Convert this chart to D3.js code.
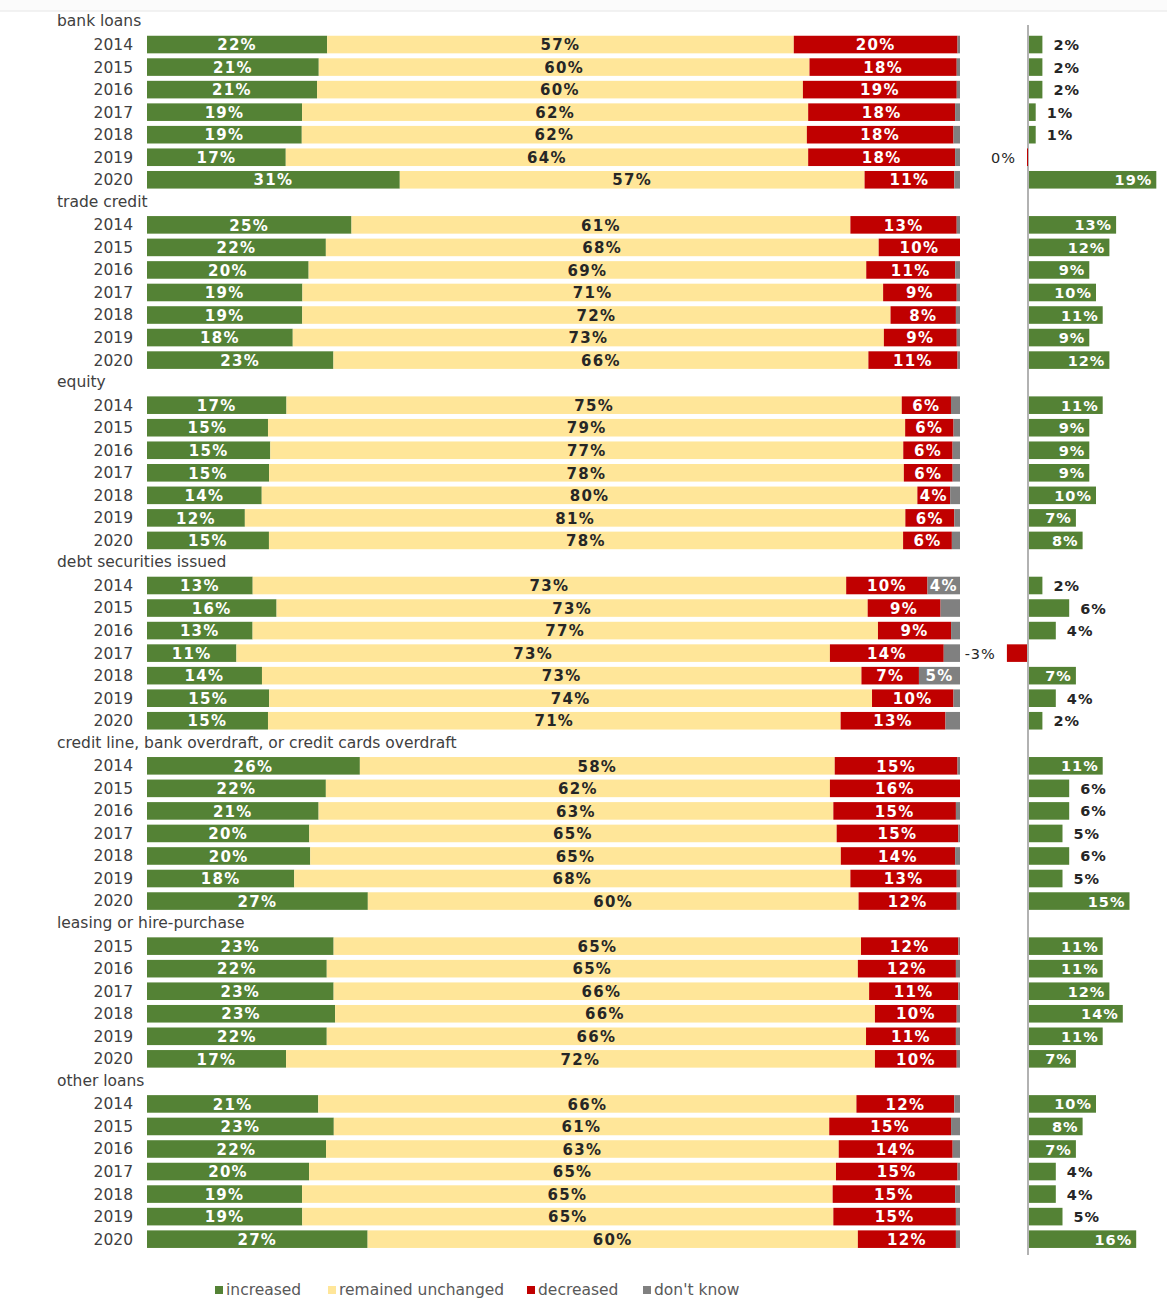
<!DOCTYPE html>
<html>
<head>
<meta charset="utf-8">
<script src="https://cdn.jsdelivr.net/npm/d3@7"></script>
<style>
  body { margin: 0; background: #fff; }
  text { font-family: "DejaVu Sans", Verdana, sans-serif; }
</style>
</head>
<body>
<div id="chart"></div>
<script>
// categories
var groups = ["bank loans", "trade credit", "equity", "debt securities issued",
              "credit line, bank overdraft, or credit cards overdraft",
              "leasing or hire-purchase", "other loans"];
var yearsAll = ["2014", "2015", "2016", "2017", "2018", "2019", "2020"];
var yearsLeasing = ["2015", "2016", "2017", "2018", "2019", "2020"];
var series = ["increased", "remained unchanged", "decreased", "don't know"];

// shares, one array per group and series
var bankInc = [22, 21, 21, 19, 19, 17, 31],
    bankUnch = [57, 60, 60, 62, 62, 64, 57],
    bankDec = [20, 18, 19, 18, 18, 18, 11],
    bankDk = [0.3, 0.4, 0.4, 0.6, 0.8, 0.6, 0.7],
    bankNet = [2, 2, 2, 1, 1, 0, 19];

var tradeInc = [25, 22, 20, 19, 19, 18, 23],
    tradeUnch = [61, 68, 69, 71, 72, 73, 66],
    tradeDec = [13, 10, 11, 9, 8, 9, 11],
    tradeDk = [0.4, 0, 0.6, 0.4, 0.5, 0.4, 0.3],
    tradeNet = [13, 12, 9, 10, 11, 9, 12];

var equityInc = [17, 15, 15, 15, 14, 12, 15],
    equityUnch = [75, 79, 77, 78, 80, 81, 78],
    equityDec = [6, 6, 6, 6, 4, 6, 6],
    equityDk = [1.1, 0.8, 0.9, 0.9, 1.2, 0.7, 1],
    equityNet = [11, 9, 9, 9, 10, 7, 8];

var debtInc = [13, 16, 13, 11, 14, 15, 15],
    debtUnch = [73, 73, 77, 73, 73, 74, 71],
    debtDec = [10, 9, 9, 14, 7, 10, 13],
    debtDk = [4, 2.4, 1.1, 2, 5, 0.8, 1.8],
    debtNet = [2, 6, 4, -3, 7, 4, 2];

var creditInc = [26, 22, 21, 20, 20, 18, 27],
    creditUnch = [58, 62, 63, 65, 65, 68, 60],
    creditDec = [15, 16, 15, 15, 14, 13, 12],
    creditDk = [0.3, 0, 0.5, 0.2, 0.6, 0.4, 0.4],
    creditNet = [11, 6, 6, 5, 6, 5, 15];

var leasingInc = [23, 22, 23, 23, 22, 17],
    leasingUnch = [65, 65, 66, 66, 66, 72],
    leasingDec = [12, 12, 11, 10, 11, 10],
    leasingDk = [0.2, 0.5, 0.2, 0.4, 0.5, 0.4],
    leasingNet = [11, 11, 12, 14, 11, 7];

var otherInc = [21, 23, 22, 20, 19, 19, 27],
    otherUnch = [66, 61, 63, 65, 65, 65, 60],
    otherDec = [12, 15, 14, 15, 15, 15, 12],
    otherDk = [0.7, 1.1, 0.9, 0.3, 0.6, 0.5, 0.5],
    otherNet = [10, 8, 7, 4, 4, 5, 16];

var groupData = [
  [yearsAll, bankInc, bankUnch, bankDec, bankDk, bankNet],
  [yearsAll, tradeInc, tradeUnch, tradeDec, tradeDk, tradeNet],
  [yearsAll, equityInc, equityUnch, equityDec, equityDk, equityNet],
  [yearsAll, debtInc, debtUnch, debtDec, debtDk, debtNet],
  [yearsAll, creditInc, creditUnch, creditDec, creditDk, creditNet],
  [yearsLeasing, leasingInc, leasingUnch, leasingDec, leasingDk, leasingNet],
  [yearsAll, otherInc, otherUnch, otherDec, otherDk, otherNet]
];

var colors = ["#548235", "#FFE699", "#C00000", "#808080"];
var labelColors = ["#fff", "#262626", "#fff", "#fff"];

// build slots: header rows and bar rows
var slots = [], rows = [];
groupData.forEach(function(g, gi) {
  slots.push({key: "h" + gi, header: groups[gi]});
  g[0].forEach(function(yr, i) {
    var r = {key: gi + "-" + yr, year: yr, net: g[5][i]};
    r[series[0]] = g[1][i];
    r[series[1]] = g[2][i];
    r[series[2]] = g[3][i];
    r[series[3]] = g[4][i];
    slots.push(r);
    rows.push(r);
  });
});

var W = 1167, H = 1298;
var svg = d3.select("#chart").append("svg").attr("width", W).attr("height", H);

// faint top edge
svg.append("rect").attr("x", 0).attr("y", 0).attr("width", W).attr("height", 11).style("fill", "#fbfbfb");
svg.append("line").attr("x1", 0).attr("x2", W).attr("y1", 11).attr("y2", 11).style("stroke", "#e6e6e6");

var step = 22.54;
var y = d3.scaleBand()
    .domain(slots.map(function(d) { return d.key; }))
    .range([22 - step / 2, 22 - step / 2 + step * slots.length])
    .paddingInner(0.22).paddingOuter(0.11);

var x = d3.scaleLinear().domain([0, 1]).range([147, 960]);
var xn = d3.scaleLinear().domain([0, 20]).range([1028, 1162]);

var stack = d3.stack().keys(series).offset(d3.stackOffsetExpand);
var stacked = stack(rows);

// group headers
svg.append("g").selectAll("text")
  .data(slots.filter(function(d) { return d.header; }))
  .join("text")
    .attr("x", 57)
    .attr("y", function(d) { return y(d.key) + y.bandwidth() / 2 - 1; })
    .attr("dy", "0.35em")
    .style("font-size", "15.5px")
    .style("fill", "#404040")
    .text(function(d) { return d.header; });

// year labels
svg.append("g").selectAll("text")
  .data(rows)
  .join("text")
    .attr("x", 133)
    .attr("y", function(d) { return y(d.key) + y.bandwidth() / 2; })
    .attr("dy", "0.35em")
    .attr("text-anchor", "end")
    .style("font-size", "15.5px")
    .style("fill", "#404040")
    .text(function(d) { return d.year; });

// stacked bars
var layers = svg.append("g").selectAll("g")
  .data(stacked)
  .join("g")
    .style("fill", function(d, i) { return colors[i]; });

layers.selectAll("rect")
  .data(function(d) { return d; })
  .join("rect")
    .attr("x", function(d) { return x(d[0]); })
    .attr("y", function(d) { return y(d.data.key); })
    .attr("width", function(d) { return Math.max(0, x(d[1]) - x(d[0])); })
    .attr("height", y.bandwidth());

layers.each(function(layer, li) {
  d3.select(this).selectAll("text")
    .data(layer.filter(function(d) { return d.data[series[li]] >= 4; }))
    .join("text")
      .attr("x", function(d) { return (x(d[0]) + x(d[1])) / 2; })
      .attr("y", function(d) { return y(d.data.key) + y.bandwidth() / 2; })
      .attr("dy", "0.38em")
      .attr("text-anchor", "middle")
      .style("font-size", "15px")
      .style("font-weight", "bold")
      .style("letter-spacing", "1.3px")
      .style("fill", labelColors[li])
      .text(function(d) { return Math.round(d.data[series[li]]) + "%"; });
});

// net balance bars
var net = svg.append("g");
net.append("line")
  .attr("x1", xn(0)).attr("x2", xn(0))
  .attr("y1", 25).attr("y2", 1255)
  .style("stroke", "#7f7f7f").style("stroke-width", 1.2);

net.selectAll("rect")
  .data(rows)
  .join("rect")
    .attr("x", function(d) { return d.net > 0 ? xn(0) + 1 : xn(d.net) - 1; })
    .attr("y", function(d) { return y(d.key); })
    .attr("width", function(d) { return Math.max(1, Math.abs(xn(d.net) - xn(0))); })
    .attr("height", y.bandwidth())
    .style("fill", function(d) { return d.net > 0 ? colors[0] : colors[2]; });

net.selectAll("text")
  .data(rows)
  .join("text")
    .attr("x", function(d) {
      if (d.net >= 7) return xn(d.net) - 3;
      if (d.net > 0) return xn(d.net) + 12;
      return xn(d.net) - 12;
    })
    .attr("y", function(d) { return y(d.key) + y.bandwidth() / 2; })
    .attr("dy", "0.38em")
    .attr("text-anchor", function(d) { return d.net > 0 && d.net < 7 ? "start" : "end"; })
    .style("font-size", "14.5px")
    .style("font-weight", function(d) { return d.net > 0 ? "bold" : "normal"; })
    .style("letter-spacing", "1px")
    .style("fill", function(d) { return d.net >= 7 ? "#fff" : "#262626"; })
    .text(function(d) { return d.net + "%"; });

// legend
var legendX = [215, 328, 527, 643];
var legend = svg.append("g").selectAll("g")
  .data(series)
  .join("g")
    .attr("transform", function(d, i) { return "translate(" + legendX[i] + ",1290)"; });
legend.append("rect")
  .attr("x", 0).attr("y", -4).attr("width", 8).attr("height", 8)
  .style("fill", function(d, i) { return colors[i]; });
legend.append("text")
  .attr("x", 11).attr("y", 0).attr("dy", "0.35em")
  .style("font-size", "15.5px")
  .style("fill", "#595959")
  .text(function(d) { return d; });
</script>
</body>
</html>
